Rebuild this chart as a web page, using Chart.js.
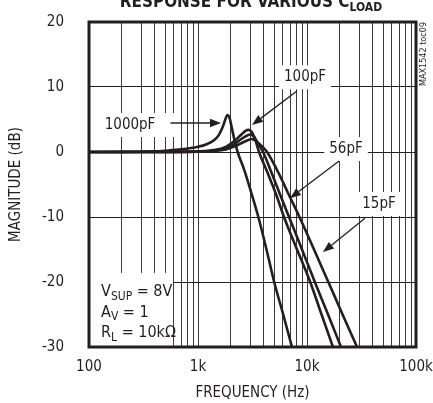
<!DOCTYPE html>
<html>
<head>
<meta charset="utf-8">
<script src="https://cdn.jsdelivr.net/npm/chart.js@4/dist/chart.umd.min.js"></script>
<style>
  html, body { margin: 0; padding: 0; background: #fff; }
  #wrap { position: relative; width: 433px; height: 403px; }
</style>
</head>
<body>
<div id="wrap"><canvas id="chart"></canvas></div>
<script>
// frequency (Hz) / magnitude (dB), one pair of arrays per load
const freq1000pF = [100, 200, 300, 400, 500, 700, 1000, 1200, 1400, 1550, 1680, 1780, 1860, 1950, 2050, 2150, 2310, 2650, 3000, 3580, 4250, 5000, 6050, 7280];
const mag1000pF  = [0, 0.02, 0.05, 0.1, 0.2, 0.4, 0.8, 1.2, 1.8, 2.6, 3.8, 5.0, 5.7, 5.2, 3.6, 2.0, 0, -2.7, -5.6, -10, -15, -20, -25, -30];

const freq100pF = [100, 500, 1000, 1400, 1800, 2200, 2500, 2750, 2900, 3100, 3350, 3630, 4300, 5200, 6150, 8100, 10700, 13600, 17300];
const mag100pF  = [0, 0.02, 0.1, 0.3, 0.8, 1.8, 2.7, 3.3, 3.4, 3.1, 1.9, 0, -3, -6.5, -10, -15, -20, -25, -30];

const freq56pF = [100, 500, 1000, 1400, 1800, 2200, 2500, 2800, 3000, 3250, 3550, 3950, 4680, 5650, 6840, 9000, 11800, 15600, 20500];
const mag56pF  = [0, 0.01, 0.05, 0.2, 0.6, 1.3, 2.0, 2.5, 2.7, 2.4, 1.3, 0, -3, -6.5, -10, -15, -20, -25, -30];

const freq15pF = [100, 500, 1000, 1400, 1800, 2200, 2600, 2900, 3100, 3450, 3850, 4300, 5400, 6780, 8530, 11600, 15700, 21200, 28800];
const mag15pF  = [0, 0.01, 0.03, 0.15, 0.4, 0.9, 1.5, 1.85, 2.0, 1.6, 0.9, 0, -3, -6.5, -10, -15, -20, -25, -30];

const loadNames = ['1000pF', '100pF', '56pF', '15pF'];

// axis ticks
const freqTicks = [100, 1000, 10000, 100000];
const freqTickLabels = ['100', '1k', '10k', '100k'];
const magTicks = [-30, -20, -10, 0, 10, 20];

// where the curve labels sit, in (Hz, dB)
const labelAt   = [[238, 4.15], [9590, 11.5], [22800, 0.46], [45800, -8.0]];
const arrowFrom = [[560, 4.46], [8090, 9.4], [19700, -1.4], [34000, -10.2]];
const arrowTo   = [[1626, 4.46], [3130, 4.15], [6980, -7.1], [14000, -15.4]];

const NARROW = "'Liberation Sans Narrow', 'DejaVu Sans Condensed', 'Liberation Sans', sans-serif";
const INK = '#231f20';

// vertical grid at 1..9 of every decade
const gridFreqs = [];
for (let d = 100; d < 100000; d *= 10) {
    for (let k = 1; k < 10; k++) gridFreqs.push(d * k);
}
gridFreqs.push(100000);

function series(fs, ms) {
    return fs.map((f, i) => ({ x: f, y: ms[i] }));
}

function arrow(ctx, x1, y1, x2, y2) {
    const a = Math.atan2(y2 - y1, x2 - x1);
    const hl = 11, hw = 4.2;
    const bx = x2 - hl * Math.cos(a), by = y2 - hl * Math.sin(a);
    ctx.lineWidth = 1.3;
    ctx.beginPath();
    ctx.moveTo(x1, y1);
    ctx.lineTo(bx, by);
    ctx.stroke();
    ctx.beginPath();
    ctx.moveTo(x2, y2);
    ctx.lineTo(bx + hw * Math.sin(a), by - hw * Math.cos(a));
    ctx.lineTo(bx - hw * Math.sin(a), by + hw * Math.cos(a));
    ctx.closePath();
    ctx.fill();
}

// text with subscripts: parts = [[text, isSub], ...]
function richText(ctx, parts, x, y, size, weight) {
    let cx = x;
    parts.forEach(([t, sub]) => {
        ctx.font = (weight || '') + ' ' + (sub ? Math.round(size * 0.72) : size) + 'px ' + NARROW;
        ctx.fillText(t, cx, sub ? y + size * 0.22 : y);
        cx += ctx.measureText(t).width;
    });
}
function richWidth(ctx, parts, size, weight) {
    let w = 0;
    parts.forEach(([t, sub]) => {
        ctx.font = (weight || '') + ' ' + (sub ? Math.round(size * 0.72) : size) + 'px ' + NARROW;
        w += ctx.measureText(t).width;
    });
    return w;
}

const overlay = {
    id: 'overlay',
    afterDatasetsDraw(chart) {
        const ctx = chart.ctx;
        const xs = chart.scales.x, ys = chart.scales.y;
        const ca = chart.chartArea;
        ctx.save();
        ctx.fillStyle = INK;
        ctx.strokeStyle = INK;

        // curve labels with white boxes
        ctx.font = '15px ' + NARROW;
        ctx.textAlign = 'center';
        ctx.textBaseline = 'middle';
        loadNames.forEach((name, i) => {
            const px = xs.getPixelForValue(labelAt[i][0]);
            const py = ys.getPixelForValue(labelAt[i][1]);
            const w = ctx.measureText(name).width + 10;
            ctx.fillStyle = '#fff';
            if (i === 0) ctx.fillRect(px - w / 2, py - 12, w + 16, 24);
            else ctx.fillRect(px - w / 2, py - 12, w, 24);
            ctx.fillStyle = INK;
            ctx.fillText(name, px, py);
        });
        loadNames.forEach((name, i) => {
            arrow(ctx,
                xs.getPixelForValue(arrowFrom[i][0]), ys.getPixelForValue(arrowFrom[i][1]),
                xs.getPixelForValue(arrowTo[i][0]), ys.getPixelForValue(arrowTo[i][1]));
        });

        // test conditions box
        const bx0 = ca.left, by0 = ys.getPixelForValue(-18.6);
        const bx1 = xs.getPixelForValue(590);
        ctx.fillStyle = '#fff';
        ctx.fillRect(bx0, by0, bx1 - bx0, ca.bottom - by0);
        ctx.fillStyle = INK;
        ctx.textAlign = 'left';
        ctx.textBaseline = 'alphabetic';
        const tx = xs.getPixelForValue(129);
        const lines = [
            [['V', false], ['SUP', true], [' = 8V', false]],
            [['A', false], ['V', true], [' = 1', false]],
            [['R', false], ['L', true], [' = 10k\u03A9', false]]
        ];
        lines.forEach((parts, i) => {
            richText(ctx, parts, tx, ys.getPixelForValue(-22.2) + i * 20.5, 16);
        });

        // heavy frame
        ctx.lineWidth = 3;
        ctx.strokeRect(ca.left, ca.top, ca.right - ca.left, ca.bottom - ca.top);
        ctx.restore();
    },
    afterDraw(chart) {
        const ctx = chart.ctx;
        ctx.save();
        ctx.fillStyle = INK;
        ctx.textAlign = 'left';
        ctx.textBaseline = 'alphabetic';
        // title, cut off at the top of the picture
        const title = [['RESPONSE FOR VARIOUS C', false], ['LOAD', true]];
        let size = 18;
        const w = richWidth(ctx, title, size, 'bold');
        size = size * 263 / w;
        const w2 = richWidth(ctx, title, size, 'bold');
        richText(ctx, title, 251 - w2 / 2, 7, size, 'bold');

        // side code
        ctx.translate(424, 54);
        ctx.rotate(-Math.PI / 2);
        ctx.textAlign = 'center';
        ctx.textBaseline = 'middle';
        ctx.font = '9px ' + NARROW;
        ctx.fillText('MAX1542 toc09', 0, 0);
        ctx.restore();
    }
};

const mkSet = (fs, ms) => ({
    data: series(fs, ms),
    borderColor: INK,
    borderWidth: 2.6,
    pointRadius: 0,
    fill: false,
    cubicInterpolationMode: 'monotone'
});

// pin the scale boxes so the plot frame lands where the original has it
function pinX(s) {
    s.height = 56;
    s.paddingLeft = 0; s.paddingRight = 0; s.paddingTop = 0; s.paddingBottom = 0;
}
function pinY(s) {
    s.width = 89;
    s.paddingLeft = 0; s.paddingRight = 0; s.paddingTop = 0; s.paddingBottom = 0;
}

new Chart(document.getElementById('chart'), {
    type: 'line',
    data: {
        datasets: [
            mkSet(freq15pF, mag15pF),
            mkSet(freq56pF, mag56pF),
            mkSet(freq100pF, mag100pF),
            mkSet(freq1000pF, mag1000pF)
        ]
    },
    options: {
        responsive: true,
        maintainAspectRatio: false,
        animation: false,
        layout: { padding: { top: 22, right: 17, left: 0, bottom: 0 } },
        plugins: { legend: { display: false }, tooltip: { enabled: false } },
        scales: {
            x: {
                type: 'logarithmic',
                min: 100,
                max: 100000,
                afterBuildTicks: (s) => { s.ticks = gridFreqs.map(v => ({ value: v })); },
                afterFit: pinX,
                ticks: {
                    autoSkip: false,
                    maxRotation: 0,
                    minRotation: 0,
                    padding: 11,
                    color: INK,
                    font: { family: NARROW, size: 15 },
                    callback: (v) => {
                        const i = freqTicks.indexOf(v);
                        return i < 0 ? '' : freqTickLabels[i];
                    }
                },
                grid: { color: '#3a3a3a', lineWidth: 1, drawTicks: false },
                border: { display: false },
                title: {
                    display: true,
                    text: 'FREQUENCY (Hz)',
                    color: INK,
                    font: { family: NARROW, size: 15 },
                    padding: { top: 0, bottom: 1 }
                }
            },
            y: {
                min: -30,
                max: 20,
                afterBuildTicks: (s) => { s.ticks = magTicks.map(v => ({ value: v })); },
                afterFit: pinY,
                ticks: {
                    padding: 25,
                    color: INK,
                    font: { family: NARROW, size: 15 }
                },
                grid: { color: INK, lineWidth: 1, drawTicks: false },
                border: { display: false },
                title: {
                    display: true,
                    text: 'MAGNITUDE (dB)',
                    color: INK,
                    font: { family: NARROW, size: 15 },
                    padding: { top: 7, bottom: 0 }
                }
            }
        }
    },
    plugins: [overlay]
});
</script>
</body>
</html>
